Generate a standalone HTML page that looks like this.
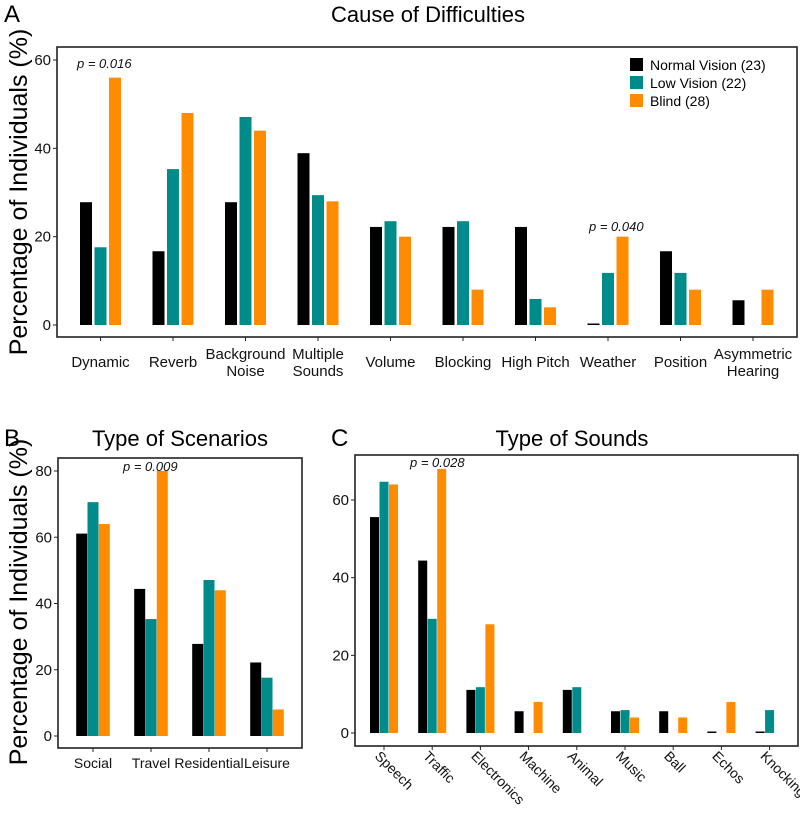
<!DOCTYPE html>
<html><head><meta charset="utf-8">
<style>
html,body{margin:0;padding:0;background:#fff;}
svg{display:block;font-family:"Liberation Sans",Arial,sans-serif;}
</style></head>
<body>
<svg id="fig" width="800" height="813" viewBox="0 0 800 813">
<text x="4" y="22" font-size="24">A</text>
<text x="428" y="22" font-size="22" text-anchor="middle">Cause of Difficulties</text>
<text x="4" y="446" font-size="24">B</text>
<text x="180" y="446" font-size="22" text-anchor="middle">Type of Scenarios</text>
<text x="331" y="446" font-size="24">C</text>
<text x="572" y="446" font-size="22" text-anchor="middle">Type of Sounds</text>
<text transform="translate(27,192) rotate(-90)" font-size="25" text-anchor="middle">Percentage of Individuals (%)</text>
<text transform="translate(27,602) rotate(-90)" font-size="25" text-anchor="middle">Percentage of Individuals (%)</text>
<g>
<rect x="630" y="58" width="13" height="13" fill="#000"/><text x="650" y="70" font-size="14">Normal Vision (23)</text>
<rect x="630" y="76" width="13" height="13" fill="#008B8B"/><text x="650" y="88" font-size="14">Low Vision (22)</text>
<rect x="630" y="94" width="13" height="13" fill="#FF8C00"/><text x="650" y="106" font-size="14">Blind (28)</text>
</g>
</svg>
<script>
const aCats=["Dynamic","Reverb","Background\nNoise","Multiple\nSounds","Volume","Blocking","High Pitch","Weather","Position","Asymmetric\nHearing"];
const aNormal=[27.8,16.7,27.8,38.9,22.2,22.2,22.2,0,16.7,5.6];
const aLow=[17.6,35.3,47.1,29.4,23.5,23.5,5.9,11.8,11.8,0];
const aBlind=[56,48,44,28,20,8,4,20,8,8];
const aTicks=[0,20,40,60];
const bCats=["Social","Travel","Residential","Leisure"];
const bNormal=[61.1,44.4,27.8,22.2];
const bLow=[70.6,35.3,47.1,17.6];
const bBlind=[64,80,44,8];
const bTicks=[0,20,40,60,80];
const cCats=["Speech","Traffic","Electronics","Machine","Animal","Music","Ball","Echos","Knocking"];
const cNormal=[55.6,44.4,11.1,5.6,11.1,5.6,5.6,0,0];
const cLow=[64.7,29.4,11.8,0,11.8,5.9,0,0,5.9];
const cBlind=[64,68,28,8,0,4,4,8,0];
const cTicks=[0,20,40,60];

const NS="http://www.w3.org/2000/svg";
const svg=document.getElementById('fig');
const colors=["#000000","#008B8B","#FF8C00"];
const snames=["normal","low","blind"];
function mk(t,a,p){const e=document.createElementNS(NS,t);for(const k in a)e.setAttribute(k,a[k]);(p||svg).appendChild(e);return e;}

function panel(cfg){
  const g=mk('g',{});
  
  
  const y=v=>cfg.y0-v*cfg.ppu;
  const x=i=>cfg.x0+i*cfg.step;
  const box=mk('rect',{x:cfg.bx,y:cfg.by,width:cfg.bw,height:cfg.bh,fill:'none',stroke:'#222','stroke-width':1.6},g);
  
  
  cfg.ticks.forEach(t=>{
    mk('line',{x1:cfg.bx-4,x2:cfg.bx,y1:y(t),y2:y(t),stroke:'#222'},g);
    const tx=mk('text',{x:cfg.bx-6,y:y(t)+5,'font-size':15,'text-anchor':'end',fill:'#111'},g);
    tx.textContent=t;
    
    
  });
  const series=[cfg.n,cfg.l,cfg.b];
  cfg.cats.forEach((c,i)=>{
    series.forEach((s,k)=>{
      const v=s[i];
      let h=y(0)-y(v);
      if(v===0){ if(k!==0) return; h=1.5; }
      const cx=x(i)+(k-1)*cfg.off;
      const r=mk('rect',{x:cx-cfg.bwid/2,y:y(0)-h,width:cfg.bwid,height:h,fill:colors[k]},g);
      
      
    });
    mk('line',{x1:x(i),x2:x(i),y1:cfg.by+cfg.bh,y2:cfg.by+cfg.bh+4,stroke:'#222'},g);
    const lines=c.split('\n');
    if(cfg.rot){
      const t=mk('text',{transform:`translate(${x(i)-10},${cfg.by+cfg.bh+11}) rotate(45)`,'font-size':14,fill:'#111'},g);
      t.textContent=c;
      
      
    } else {
      lines.forEach((ln,j)=>{
        const off=lines.length===1?cfg.ly+8:cfg.ly+j*17;
        const t=mk('text',{x:x(i),y:off,'font-size':cfg.lf,'text-anchor':'middle',fill:'#111'},g);
        t.textContent=ln;
        
        
      });
    }
  });
  cfg.p.forEach(p=>{
    const t=mk('text',{x:p[0],y:p[1],'font-size':13,'font-style':'italic',fill:'#111'},g);
    t.textContent=p[2];
    
    
  });
}
panel({id:'panel-a',cats:aCats,n:aNormal,l:aLow,b:aBlind,ticks:aTicks,bx:57,by:47,bw:740,bh:290,y0:325,ppu:265/60,x0:100.5,step:72.5,off:14.5,bwid:12,ly:359,lf:15,rot:false,p:[[77,68,"p = 0.016"],[589,231,"p = 0.040"]]});
panel({id:'panel-b',cats:bCats,n:bNormal,l:bLow,b:bBlind,ticks:bTicks,bx:58,by:458,bw:244,bh:290,y0:736,ppu:265/80,x0:93,step:58,off:11.3,bwid:11,ly:760,lf:14,rot:false,p:[[123,471,"p = 0.009"]]});
panel({id:'panel-c',cats:cCats,n:cNormal,l:cLow,b:cBlind,ticks:cTicks,bx:355,by:455,bw:443,bh:291,y0:733,ppu:233/60,x0:384,step:48.2,off:9.5,bwid:9,ly:770,lf:14,rot:true,p:[[410,467,"p = 0.028"]]});
</script>
</body></html>
